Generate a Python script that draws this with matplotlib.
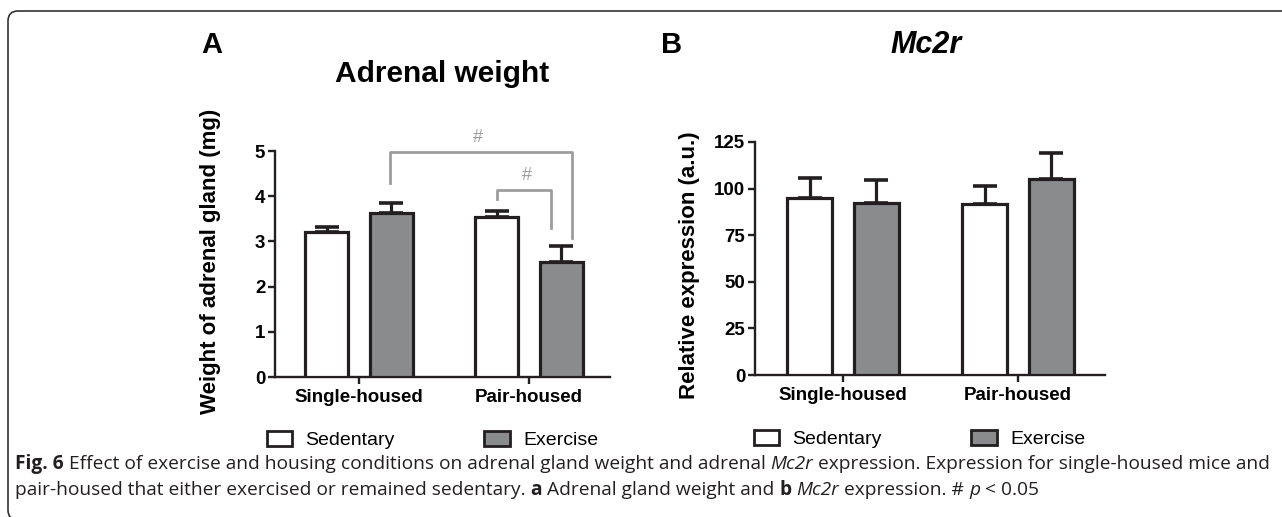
import matplotlib
matplotlib.use("Agg")
import matplotlib.pyplot as plt
import numpy as np
from matplotlib.patches import Patch, FancyBboxPatch

# data
groups = ["Single-housed", "Pair-housed"]
series = ["Sedentary", "Exercise"]

weight_mean = {"Sedentary": [3.21, 3.53], "Exercise": [3.62, 2.55]}
weight_err = {"Sedentary": [0.11, 0.14], "Exercise": [0.24, 0.35]}

mc2r_mean = {"Sedentary": [95.0, 92.0], "Exercise": [92.1, 105.0]}
mc2r_err = {"Sedentary": [10.7, 9.4], "Exercise": [12.4, 14.1]}

weight_ticks = [0, 1, 2, 3, 4, 5]
mc2r_ticks = [0, 25, 50, 75, 100, 125]

# significance brackets in panel A: (x_left, x_right, y_left, y_top, y_right), label pos
brackets = [
    ((0.18, 1.25, 4.29, 4.98, 3.07), (0.70, 5.30)),
    ((0.81, 1.13, 3.93, 4.13, 3.29), (0.99, 4.45)),
]

W, H = 1282, 517
EDGE = "#231f20"
GREY = "#8a8b8d"
BRK = "#9d9d9d"
plt.rcParams["font.family"] = ["Liberation Sans", "DejaVu Sans"]

fig = plt.figure(figsize=(W / 100, H / 100), dpi=100)


def px_axes(x0, x1, ytop, ybot):
    return fig.add_axes([x0 / W, 1 - ybot / H, (x1 - x0) / W, (ybot - ytop) / H])


def draw_bars(ax, means, errs, ylim, ticks, xlim):
    x = np.arange(len(groups))
    offs = {"Sedentary": -0.19, "Exercise": 0.19}
    fills = {"Sedentary": "white", "Exercise": GREY}
    for s in series:
        ax.bar(x + offs[s], means[s], width=0.255, color=fills[s], edgecolor=EDGE,
               linewidth=2.3, zorder=3)
        ax.errorbar(x + offs[s], means[s], yerr=[np.zeros(len(x)), errs[s]], fmt="none",
                    ecolor=EDGE, elinewidth=2.3, capsize=8.5, capthick=2.6, zorder=2)
    ax.set_xlim(*xlim)
    ax.set_ylim(*ylim)
    ax.set_yticks(ticks)
    ax.set_xticks(x)
    ax.set_xticklabels(groups, fontsize=13.5, fontweight="bold")
    for lab in ax.get_yticklabels():
        lab.set_fontsize(13.5)
        lab.set_fontweight("bold")
    for sp in ["top", "right"]:
        ax.spines[sp].set_visible(False)
    for sp in ["left", "bottom"]:
        ax.spines[sp].set_linewidth(1.7)
        ax.spines[sp].set_color(EDGE)
    ax.tick_params(axis="y", length=5, width=1.7, color=EDGE, pad=2)
    ax.tick_params(axis="x", length=5, width=1.7, color=EDGE, pad=4)
    ax.set_facecolor("none")
    handles = [Patch(facecolor="white", edgecolor=EDGE, linewidth=2),
               Patch(facecolor=GREY, edgecolor=EDGE, linewidth=2)]
    ax.legend(handles, series, loc="upper center", bbox_to_anchor=(0.47, -0.16), ncol=2,
              frameon=False, fontsize=14, handlelength=1.3, handleheight=0.85,
              columnspacing=4.6, handletextpad=0.7)


axA = px_axes(275, 610, 151, 377)
draw_bars(axA, weight_mean, weight_err, (0, 5), weight_ticks, (-0.494, 1.476))
axA.set_ylabel("Weight of adrenal gland (mg)", fontsize=16, fontweight="bold")
axA.yaxis.set_label_coords(-0.16, 0.51)

for (xl, xr, yl, yt, yr), (tx, ty) in brackets:
    axA.plot([xl, xl, xr, xr], [yl, yt, yt, yr], color=BRK, lw=2.0, clip_on=False,
             solid_joinstyle="round", zorder=4)
    axA.text(tx, ty, "#", color=BRK, fontsize=13, ha="center", va="center", clip_on=False)

axB = px_axes(755, 1105, 142, 375)
draw_bars(axB, mc2r_mean, mc2r_err, (0, 125), mc2r_ticks, (-0.503, 1.497))
axB.set_ylabel("Relative expression (a.u.)", fontsize=16, fontweight="bold")
axB.yaxis.set_label_coords(-0.157, 0.47)

# titles and panel letters
fig.text(212 / W, 1 - 45 / H, "A", fontsize=21, fontweight="bold", ha="center", va="center")
fig.text(672 / W, 1 - 45 / H, "B", fontsize=21, fontweight="bold", ha="center", va="center")
fig.text(442 / W, 1 - 74 / H, "Adrenal weight", fontsize=21.5, fontweight="bold", ha="center", va="center")
fig.text(926 / W, 1 - 45 / H, "Mc2r", fontsize=22, fontweight="bold", style="italic",
         ha="center", va="center")

# rounded frame, bottom corner just visible
frame = FancyBboxPatch((8, -3), 1320, H - 11 + 3, boxstyle="round,pad=0,rounding_size=10",
                       transform=None, facecolor="none", edgecolor="#333333", linewidth=1.2)
fig.add_artist(frame)

# caption made of pieces laid side by side
CAP = ["Open Sans", "DejaVu Sans"]
line1 = [("Fig. 6", "bold", "normal"),
         (" Effect of exercise and housing conditions on adrenal gland weight and adrenal ", "normal", "normal"),
         ("Mc2r", "normal", "italic"),
         (" expression. Expression for single-housed mice and", "normal", "normal")]
line2 = [("pair-housed that either exercised or remained sedentary. ", "normal", "normal"),
         ("a", "bold", "normal"),
         (" Adrenal gland weight and ", "normal", "normal"),
         ("b", "bold", "normal"),
         (" ", "normal", "normal"),
         ("Mc2r", "normal", "italic"),
         (" expression. # ", "normal", "normal"),
         ("p", "normal", "italic"),
         (" < 0.05", "normal", "normal")]


def place_line(pieces, x, y, size):
    renderer = fig.canvas.get_renderer()
    cur = x
    for txt, wt, st in pieces:
        t = fig.text(cur / W, 1 - y / H, txt, fontsize=size, fontweight=wt, style=st,
                     family=CAP, color="#231f20", va="baseline", ha="left")
        cur += t.get_window_extent(renderer).width
    return cur


# fit the first caption line to the width it spans in the original
renderer = fig.canvas.get_renderer()
probe_w = 0
for txt, wt, st in line1:
    t = fig.text(0, 0, txt, fontsize=12, fontweight=wt, style=st, family=CAP)
    probe_w += t.get_window_extent(renderer).width
    t.remove()
cap_size = 12 * (1267 - 15) / probe_w

place_line(line1, 15, 469, cap_size)
place_line(line2, 15, 495, cap_size)

fig.savefig("out.png", dpi=100)
